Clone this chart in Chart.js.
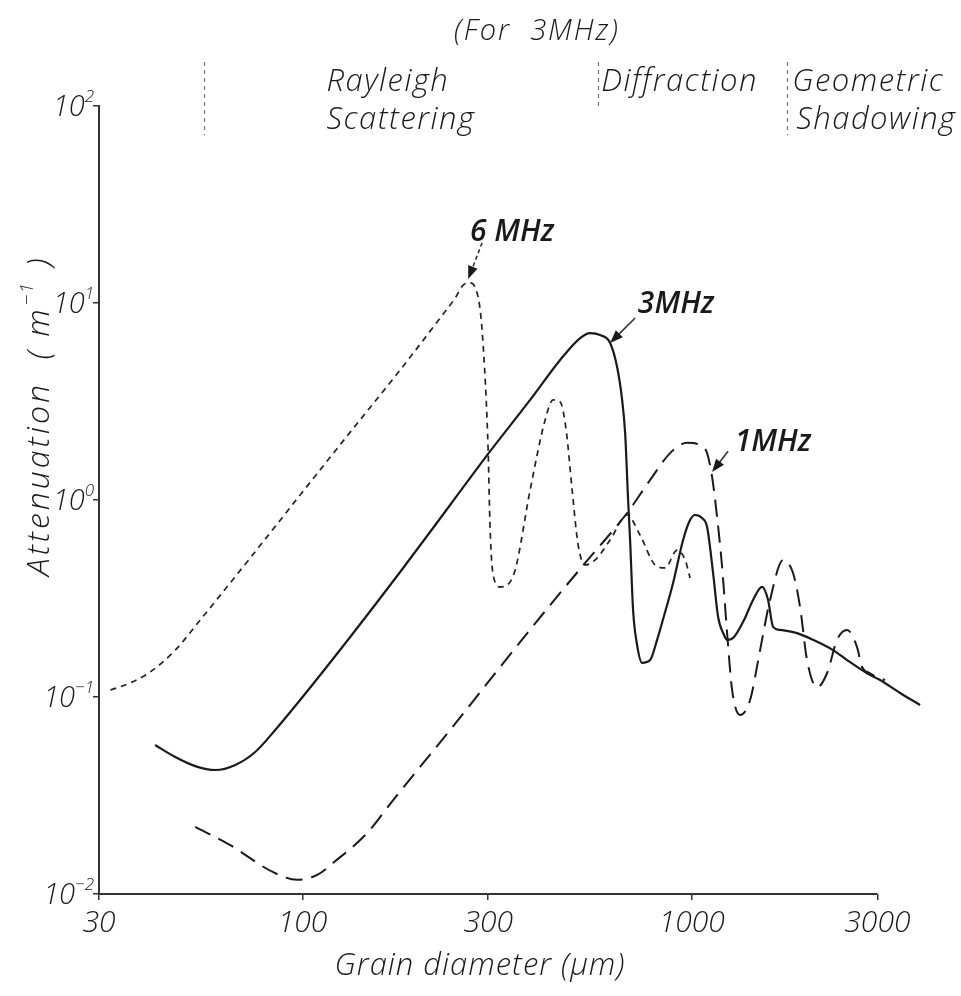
<!DOCTYPE html>
<html>
<head>
<meta charset="utf-8">
<script src="https://cdn.jsdelivr.net/npm/chart.js@4.4.0/dist/chart.umd.min.js"></script>
<style>
  html, body { margin: 0; padding: 0; background: #fff; }
  #wrap { position: relative; width: 961px; height: 996px; }
</style>
</head>
<body>
<div id="wrap"><canvas id="c"></canvas></div>
<script>
// Attenuation (1/m) against grain diameter (µm) for three probe frequencies
const d6 = [32.1, 36.1, 40.6, 47.1, 54.6, 73.4, 98.6, 132.6, 178.2, 225.8, 246.8, 258.8, 269.6, 279.4, 286.1, 291.2, 296.5, 299.9, 303.5, 309.0, 322.0, 335.7, 351.9, 384.5, 420.2, 440.5, 459.2, 475.8, 493.0, 510.8, 532.4, 564.8, 617.2, 682.4, 736.8, 805.4, 854.5, 917.4, 962.0, 990.6];
const a6 = [0.1085, 0.118, 0.134, 0.173, 0.246, 0.508, 1.06, 2.21, 4.57, 8.39, 10.6, 12.34, 12.64, 11.64, 9.21, 6.12, 3.22, 1.79, 0.704, 0.416, 0.362, 0.370, 0.441, 1.124, 2.55, 3.22, 3.15, 2.27, 1.124, 0.591, 0.468, 0.496, 0.627, 0.839, 0.664, 0.468, 0.452, 0.557, 0.496, 0.402];

const d3 = [41.8, 47.1, 53.0, 59.7, 67.2, 75.6, 85.1, 98.6, 132.6, 178.2, 239.5, 298.2, 384.5, 459.2, 516.9, 548.3, 581.7, 617.2, 643.3, 662.6, 674.5, 686.5, 694.6, 707.0, 724.0, 745.6, 782.1, 815.0, 854.5, 895.9, 950.5, 990.6, 1020.4, 1063.3, 1095.4, 1135.0, 1169.1, 1211.2, 1233.2, 1284.9, 1363.3, 1437.8, 1516.4, 1571.2, 1618.5, 1686.7, 1865.0, 2050.5, 2307.8, 2506.9, 2822.0, 3048.1, 3431.1, 3862.2];
const a3 = [0.0571, 0.0496, 0.0446, 0.0426, 0.0452, 0.0526, 0.0680, 0.0965, 0.2017, 0.431, 0.943, 1.69, 3.22, 5.14, 6.64, 7.04, 6.88, 6.27, 4.73, 3.22, 2.19, 1.0, 0.627, 0.2765, 0.1837, 0.149, 0.154, 0.195, 0.270, 0.379, 0.627, 0.791, 0.839, 0.810, 0.730, 0.426, 0.255, 0.2064, 0.195, 0.2017, 0.246, 0.311, 0.362, 0.311, 0.227, 0.219, 0.211, 0.195, 0.173, 0.154, 0.132, 0.122, 0.1048, 0.0911];

const d1 = [53.0, 65.2, 84.1, 96.9, 109.1, 119.9, 146.6, 171.0, 239.5, 322.0, 432.8, 532.4, 682.4, 782.1, 880.1, 973.2, 1051, 1095.4, 1128.3, 1162.2, 1197.2, 1233.2, 1270.2, 1331.7, 1412.5, 1498.7, 1590.0, 1717.1, 1821.4, 1898.8, 1978.7, 2099.5, 2227.4, 2363.2, 2506.9, 2660.0, 2739.6, 2873.0, 2994.5, 3139.4];
const a1 = [0.0219, 0.0177, 0.0129, 0.0118, 0.0125, 0.0144, 0.0204, 0.0300, 0.0680, 0.142, 0.293, 0.479, 0.859, 1.264, 1.73, 1.95, 1.90, 1.73, 1.31, 0.820, 0.457, 0.211, 0.1085, 0.0810, 0.0965, 0.173, 0.311, 0.496, 0.426, 0.286, 0.154, 0.112, 0.132, 0.195, 0.219, 0.179, 0.142, 0.132, 0.126, 0.122];

// axis ticks
const xTicks = [30, 100, 300, 1000, 3000];
const yTicks = [0.01, 0.1, 1, 10, 100];
const yExp = ['\u22122', '\u22121', '0', '1', '2'];

// scattering regime boundaries (µm) for 3 MHz
const regimeBounds = [56, 575, 1760];

// curve labels with leader arrows (data coordinates)
const curveNames = ['6 MHz', '3MHz', '1MHz'];
const nameX = [345.7, 911.9, 1618.5];
const nameY = [22.7, 9.88, 1.97];
const arrowFromX = [289.4, 715.4, 1240.4];
const arrowFromY = [20.2, 8.39, 1.77];
const arrowTipX = [266.5, 617.2, 1128.3];
const arrowTipY = [13.24, 6.27, 1.387];

const FAMILY = '"Open Sans", "Liberation Sans", sans-serif';
const INK = '#1a1a1a';

const pts = (xs, ys) => xs.map((x, i) => ({ x: x, y: ys[i] }));

function arrow(ctx, x0, y0, x1, y1, dashed) {
  const ang = Math.atan2(y1 - y0, x1 - x0);
  const L = 13, W = 5;
  ctx.save();
  ctx.lineWidth = 1.6;
  if (dashed) ctx.setLineDash([4, 3]);
  ctx.beginPath();
  ctx.moveTo(x0, y0);
  ctx.lineTo(x1 - Math.cos(ang) * L * 0.8, y1 - Math.sin(ang) * L * 0.8);
  ctx.stroke();
  ctx.setLineDash([]);
  ctx.beginPath();
  ctx.moveTo(x1, y1);
  ctx.lineTo(x1 - L * Math.cos(ang) + W * Math.sin(ang), y1 - L * Math.sin(ang) - W * Math.cos(ang));
  ctx.lineTo(x1 - L * Math.cos(ang) - W * Math.sin(ang), y1 - L * Math.sin(ang) + W * Math.cos(ang));
  ctx.closePath();
  ctx.fill();
  ctx.restore();
}

const decorations = {
  id: 'decorations',
  afterDraw(chart) {
    const { ctx } = chart;
    const x = chart.scales.x, y = chart.scales.y;
    ctx.save();
    ctx.fillStyle = INK;
    ctx.strokeStyle = '#333';

    // horizontal axis line, 30 to 3000 µm
    ctx.lineWidth = 2;
    ctx.beginPath();
    ctx.moveTo(x.getPixelForValue(xTicks[0]), y.bottom);
    ctx.lineTo(x.getPixelForValue(xTicks[xTicks.length - 1]), y.bottom);
    ctx.stroke();

    // y tick labels as powers of ten
    const right = x.left - 5;
    yTicks.forEach((v, i) => {
      const py = y.getPixelForValue(v);
      ctx.font = 'italic 300 17px ' + FAMILY;
      ctx.textAlign = 'right';
      ctx.textBaseline = 'alphabetic';
      const ew = ctx.measureText(yExp[i]).width;
      ctx.fillText(yExp[i], right, py - 4);
      ctx.font = 'italic 300 29px ' + FAMILY;
      ctx.fillText('10', right - ew, py + 10);
    });

    // axis titles
    ctx.textBaseline = 'middle';
    ctx.textAlign = 'center';
    ctx.font = 'italic 300 31px ' + FAMILY;
    ctx.letterSpacing = '1px';
    ctx.fillText('Grain diameter (\u03bcm)', 480, 966);

    ctx.save();
    ctx.translate(40, 576);
    ctx.rotate(-Math.PI / 2);
    ctx.textAlign = 'left';
    ctx.font = 'italic 300 32px ' + FAMILY;
    ctx.letterSpacing = '3px';
    const t1 = 'Attenuation  ( m';
    ctx.fillText(t1, 0, 0);
    let w = ctx.measureText(t1).width;
    ctx.font = 'italic 300 19px ' + FAMILY;
    ctx.letterSpacing = '1px';
    ctx.fillText('\u22121', w + 1, -12);
    w += ctx.measureText('\u22121').width + 5;
    ctx.font = 'italic 300 32px ' + FAMILY;
    ctx.letterSpacing = '3px';
    ctx.fillText(' )', w, 0);
    ctx.restore();

    // regime header
    ctx.letterSpacing = '2px';
    ctx.font = 'italic 300 29px ' + FAMILY;
    ctx.textAlign = 'center';
    ctx.fillText('(For  3MHz)', 537, 32);

    ctx.save();
    ctx.strokeStyle = '#777';
    ctx.lineWidth = 1.2;
    ctx.setLineDash([4, 4]);
    const divTop = 62, divBottom = [135, 110, 135];
    regimeBounds.forEach((b, i) => {
      const px = Math.round(x.getPixelForValue(b)) + 0.5;
      ctx.beginPath();
      ctx.moveTo(px, divTop);
      ctx.lineTo(px, divBottom[i]);
      ctx.stroke();
    });
    ctx.restore();

    ctx.font = 'italic 300 31px ' + FAMILY;
    ctx.letterSpacing = '1.5px';
    ctx.textAlign = 'left';
    const b0 = x.getPixelForValue(regimeBounds[0]);
    const b1 = x.getPixelForValue(regimeBounds[1]);
    const b2 = x.getPixelForValue(regimeBounds[2]);
    ctx.fillText('Rayleigh', b0 + 122, 82);
    ctx.fillText('Scattering', b0 + 122, 120);
    ctx.fillText('Diffraction', b1 + 3, 82);
    ctx.fillText('Geometric', b2 + 5, 82);
    ctx.fillText('Shadowing', b2 + 9, 120);
    ctx.letterSpacing = '0px';

    // curve labels
    curveNames.forEach((n, i) => {
      ctx.font = 'italic 600 30px ' + FAMILY;
      ctx.textAlign = 'center';
      ctx.fillText(n, x.getPixelForValue(nameX[i]), y.getPixelForValue(nameY[i]));
      arrow(ctx,
        x.getPixelForValue(arrowFromX[i]), y.getPixelForValue(arrowFromY[i]),
        x.getPixelForValue(arrowTipX[i]), y.getPixelForValue(arrowTipY[i]),
        i === 0);
    });
    ctx.restore();
  }
};

const tickFont = { family: FAMILY, size: 30, style: 'italic', weight: 300 };

new Chart(document.getElementById('c'), {
  type: 'line',
  data: {
    datasets: [
      { label: '3MHz', data: pts(d3, a3), borderColor: INK, borderWidth: 2.2,
        pointRadius: 0, fill: false, cubicInterpolationMode: 'monotone' },
      { label: '1MHz', data: pts(d1, a1), borderColor: INK, borderWidth: 2,
        borderDash: [17, 9], pointRadius: 0, fill: false, cubicInterpolationMode: 'monotone' },
      { label: '6 MHz', data: pts(d6, a6), borderColor: '#222', borderWidth: 1.7,
        borderDash: [6, 5], pointRadius: 0, fill: false, cubicInterpolationMode: 'monotone' }
    ]
  },
  options: {
    responsive: true,
    maintainAspectRatio: false,
    animation: false,
    layout: { padding: { left: 0, right: 35, top: 106, bottom: 0 } },
    plugins: { legend: { display: false }, tooltip: { enabled: false } },
    scales: {
      x: {
        type: 'logarithmic', min: 30, max: 4000,
        afterBuildTicks: s => { s.ticks = xTicks.map(v => ({ value: v })); },
        afterFit: s => { s.height = 102; },
        grid: { display: true, drawOnChartArea: false, drawTicks: true, tickLength: 6, color: '#333', lineWidth: 1.5 },
        border: { display: false },
        ticks: { autoSkip: false, maxRotation: 0, padding: 5, color: INK, font: tickFont,
                 callback: v => String(v) }
      },
      y: {
        type: 'logarithmic', min: 0.01, max: 100,
        afterBuildTicks: s => { s.ticks = yTicks.map(v => ({ value: v })); },
        afterFit: s => { s.width = 99; },
        grid: { display: true, drawOnChartArea: false, drawTicks: true, tickLength: 6, color: '#333', lineWidth: 1.5 },
        border: { display: true, color: '#333', width: 2 },
        ticks: { autoSkip: false, padding: 0, callback: () => '' }
      }
    }
  },
  plugins: [decorations]
});
</script>
</body>
</html>
